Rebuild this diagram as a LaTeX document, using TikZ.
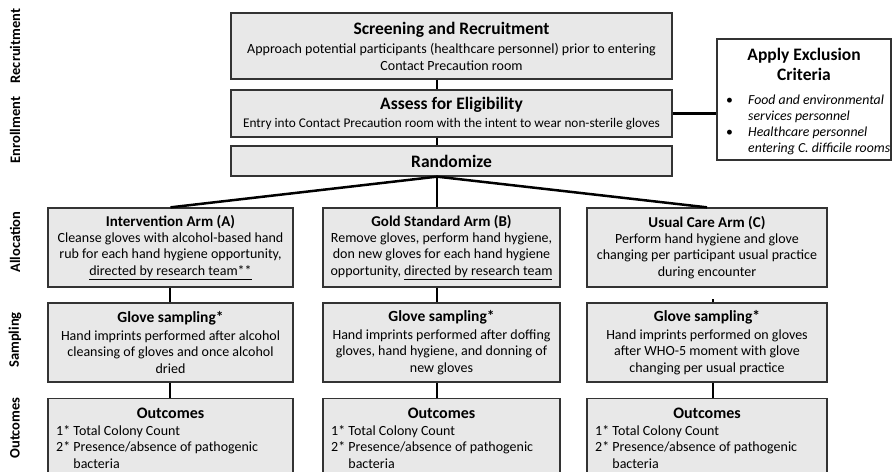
\documentclass[tikz,border=0pt]{standalone}
\usepackage{fontspec}
\setmainfont{Carlito}
\begin{document}
\begin{tikzpicture}[x=1pt,y=-1pt,
  box/.style={draw=black!80, fill=gray!18, line width=1.3pt, inner sep=0pt, align=center,
    font=\fontsize{14}{16.5}\selectfont},
  excbox/.style={draw=black!80, fill=white, line width=1.3pt, inner sep=0pt},
  conn/.style={line width=2.5pt, black},
  lab/.style={rotate=90, font=\fontsize{14.5}{16}\selectfont\bfseries, inner sep=0pt},
  txt/.style={inner sep=0pt, font=\fontsize{14}{16.5}\selectfont},
  otitle/.style={inner sep=0pt, font=\fontsize{16}{18}\selectfont\bfseries}
]
\clip (0,0) rectangle (893,471);
\fill[white] (0,0) rectangle (893,471);

% column coordinates
\coordinate (mid) at (437,0);
\coordinate (colA) at (170,0);
\coordinate (colC) at (713,0);

% left labels
\node[lab] (lrec) at (15,46) {Recruitment};
\node[lab] (lenr) at (15,130) {Enrollment};
\node[lab] (lall) at (15,242) {Allocation};
\node[lab] (lsam) at (15,340) {Sampling};
\node[lab] (lout) at (15,428) {Outcomes};

% top boxes
\node[box, minimum width=441pt, minimum height=66pt] (scr) at (451.5,46)
  {{\fontsize{17.5}{19}\selectfont\bfseries Screening and Recruitment}\\[3pt]
   Approach potential participants (healthcare personnel) prior to entering\\
   Contact Precaution room};
\node[box, minimum width=441pt, minimum height=47pt] (ass) at (451.5,113.5)
  {{\fontsize{17.5}{19}\selectfont\bfseries Assess for Eligibility}\\[1pt]
   {\fontsize{13.3}{16}\selectfont Entry into Contact Precaution room with the intent to wear non-sterile gloves}};
\node[box, minimum width=441pt, minimum height=30pt] (ran) at (451.5,161)
  {{\fontsize{17.5}{19}\selectfont\bfseries Randomize}};

% exclusion box
\node[excbox, minimum width=174pt, minimum height=121pt] (exc) at (804,99.5) {};
\node[inner sep=0pt, align=center, font=\fontsize{17.5}{20}\selectfont\bfseries] (exct) at (804,64)
  {Apply Exclusion\\Criteria};
\node[txt, anchor=north west, align=left, font=\fontsize{13.8}{16}\selectfont\itshape] (excl) at (726,95)
  {\makebox[22pt][l]{\upshape\textbullet}Food and environmental\\
   \hspace*{22pt}services personnel\\
   \makebox[22pt][l]{\upshape\textbullet}Healthcare personnel\\
   \hspace*{22pt}entering C. difficile rooms};

% arms
\node[box, minimum width=245pt, minimum height=79pt] (armA) at (170.5,247.5)
  {{\fontsize{15}{17}\selectfont\bfseries Intervention Arm (A)}\\[-1pt]
   Cleanse gloves with alcohol-based hand\\
   rub for each hand hygiene opportunity,\\
   \underline{directed by research team**}};
\node[box, minimum width=237pt, minimum height=79pt] (armB) at (441.5,247.5)
  {{\fontsize{15}{17}\selectfont\bfseries Gold Standard Arm (B)}\\[-1pt]
   Remove gloves, perform hand hygiene,\\
   don new gloves for each hand hygiene\\
   opportunity, \underline{directed by research team}};
\node[box, minimum width=240pt, minimum height=79pt] (armC) at (707,247.5)
  {{\fontsize{15}{17}\selectfont\bfseries Usual Care Arm (C)}\\[-1pt]
   Perform hand hygiene and glove\\
   changing per participant usual practice\\
   during encounter};

% sampling
\node[box, minimum width=245pt, minimum height=79pt] (samA) at (170.5,342.5)
  {{\fontsize{15.5}{17}\selectfont\bfseries Glove sampling*}\\[1pt]
   Hand imprints performed after alcohol\\
   cleansing of gloves and once alcohol\\
   dried};
\node[box, minimum width=237pt, minimum height=79pt] (samB) at (441.5,342.5)
  {{\fontsize{15.5}{17}\selectfont\bfseries Glove sampling*}\\[1pt]
   Hand imprints performed after doffing\\
   gloves, hand hygiene, and donning of\\
   new gloves};
\node[box, minimum width=240pt, minimum height=79pt] (samC) at (707,342.5)
  {{\fontsize{15.5}{17}\selectfont\bfseries Glove sampling*}\\[1pt]
   Hand imprints performed on gloves\\
   after WHO-5 moment with glove\\
   changing per usual practice};

% outcomes
\node[box, anchor=north, minimum width=245pt, minimum height=100pt] (outA) at (170.5,398) {};
\node[box, anchor=north, minimum width=237pt, minimum height=100pt] (outB) at (441.5,398) {};
\node[box, anchor=north, minimum width=240pt, minimum height=100pt] (outC) at (707,398) {};
\node[otitle] (outAt) at (170.5,413) {Outcomes};
\node[otitle] (outBt) at (441.5,413) {Outcomes};
\node[otitle] (outCt) at (707,413) {Outcomes};
\node[txt, anchor=north west, align=left] (outAl) at (56,425)
  {1* Total Colony Count\\2* Presence/absence of pathogenic\\\phantom{2* }bacteria};
\node[txt, anchor=north west, align=left] (outBl) at (331,425)
  {1* Total Colony Count\\2* Presence/absence of pathogenic\\\phantom{2* }bacteria};
\node[txt, anchor=north west, align=left] (outCl) at (595,425)
  {1* Total Colony Count\\2* Presence/absence of pathogenic\\\phantom{2* }bacteria};

% connectors
\draw[conn] (mid |- scr.south) -- (mid |- ass.north);
\draw[conn] (mid |- ass.south) -- (mid |- ran.north);
\draw[conn] (ass.east) -- (ass.east -| exc.west);
\draw[conn] (mid |- ran.south) -- (armA.north);
\draw[conn] (mid |- ran.south) -- (mid |- armB.north);
\draw[conn] (mid |- ran.south) -- (armC.north);
\draw[conn] (colA |- armA.south) -- (colA |- samA.north);
\draw[conn] (mid |- armB.south) -- (mid |- samB.north);
\draw[conn] (colC |- samC.north) -- ++(0,-3);
\draw[conn] (colA |- samA.south) -- (colA |- outA.north);
\draw[conn] (mid |- samB.south) -- (mid |- outB.north);
\draw[conn] (colC |- samC.south) -- (colC |- outC.north);
\end{tikzpicture}
\end{document}
